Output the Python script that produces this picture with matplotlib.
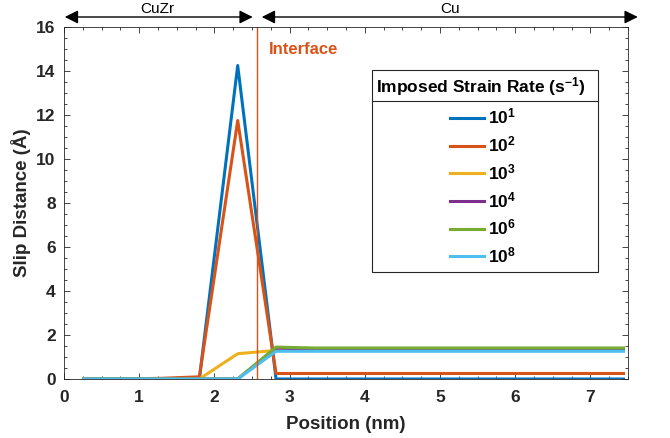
import matplotlib
matplotlib.use("Agg")
import matplotlib.pyplot as plt
from matplotlib.lines import Line2D
from matplotlib.patches import Rectangle
from matplotlib.ticker import MultipleLocator

plt.rcParams['font.family'] = ['Liberation Sans', 'DejaVu Sans']
plt.rcParams['mathtext.fontset'] = 'custom'
plt.rcParams['mathtext.rm'] = 'Liberation Sans:bold'
plt.rcParams['mathtext.it'] = 'Liberation Sans:bold'
plt.rcParams['mathtext.bf'] = 'Liberation Sans:bold'
plt.rcParams['mathtext.default'] = 'rm'

# data
position = [0.26, 0.77, 1.28, 1.80, 2.31, 2.82, 3.33, 3.85, 4.36, 4.87, 5.39, 5.90, 6.41, 6.92, 7.44]
slip_1e1 = [0, 0, 0, 0, 14.25, 0, 0, 0, 0, 0, 0, 0, 0, 0, 0]
slip_1e2 = [0, 0, 0.03, 0.1, 11.75, 0.25, 0.25, 0.25, 0.25, 0.25, 0.25, 0.25, 0.25, 0.25, 0.25]
slip_1e3 = [0, 0, 0, 0, 1.15, 1.3, 1.33, 1.33, 1.33, 1.33, 1.33, 1.33, 1.33, 1.33, 1.33]
slip_1e4 = [0, 0, 0, 0, 0, 1.4, 1.37, 1.37, 1.37, 1.37, 1.37, 1.37, 1.37, 1.37, 1.37]
slip_1e6 = [0, 0, 0, 0, 0, 1.45, 1.41, 1.41, 1.41, 1.41, 1.41, 1.41, 1.41, 1.41, 1.41]
slip_1e8 = [0, 0, 0, 0, 0, 1.26, 1.26, 1.26, 1.26, 1.26, 1.26, 1.26, 1.26, 1.26, 1.26]
series = [slip_1e1, slip_1e2, slip_1e3, slip_1e4, slip_1e6, slip_1e8]
labels = ['10$^{1}$', '10$^{2}$', '10$^{3}$', '10$^{4}$', '10$^{6}$', '10$^{8}$']
colors = ['#0072BD', '#D95319', '#EDB120', '#7E2F8E', '#77AC30', '#4DBEEE']
interface_x = 2.565
x_ticks = [0, 1, 2, 3, 4, 5, 6, 7]
y_ticks = [0, 2, 4, 6, 8, 10, 12, 14, 16]

W, H = 670, 438
fig = plt.figure(figsize=(6.7, 4.38), dpi=100)
ax = fig.add_axes([64/W, 59/H, 564/W, 352/H])

def fx(px):
    return px / W

def fy(py):
    return (H - py) / H

for ys, lab, c in zip(series, labels, colors):
    ax.plot(position, ys, color=c, lw=2.2, label=lab)

ax.axvline(interface_x, color='#D95319', lw=1.0)
ax.text(2.72, 15.0, 'Interface', color='#D95319', fontsize=12, fontweight='bold',
        ha='left', va='center')

ax.set_xlim(0, 7.5)
ax.set_ylim(0, 16)
ax.set_xticks(x_ticks)
ax.set_yticks(y_ticks)
ax.xaxis.set_minor_locator(MultipleLocator(0.25))
ax.yaxis.set_minor_locator(MultipleLocator(0.5))
ax.tick_params(which='both', direction='in', top=True, right=True, color='#262626', width=0.6)
ax.tick_params(which='major', length=4, labelsize=12.5, labelcolor='#262626')
ax.tick_params(axis='x', which='major', pad=8)
ax.tick_params(axis='y', which='major', pad=6)
ax.tick_params(which='minor', length=2)
for lbl in ax.get_xticklabels() + ax.get_yticklabels():
    lbl.set_fontweight('bold')
for sp in ax.spines.values():
    sp.set_color('#262626')
    sp.set_linewidth(0.6)

ax.set_xlabel('Position (nm)', fontsize=13.5, fontweight='bold', color='#262626', labelpad=8)
ax.set_ylabel('Slip Distance (Å)', fontsize=13.5, fontweight='bold', color='#262626', labelpad=4)

# legend box with title row
box_kw = dict(transform=fig.transFigure, clip_on=False)
ax.add_patch(Rectangle((fx(372), fy(272)), fx(598) - fx(372), fy(70) - fy(272),
                       facecolor='white', edgecolor='#262626', lw=0.8, zorder=4, **box_kw))
ax.add_line(Line2D([fx(372), fx(598)], [fy(101), fy(101)], color='#262626', lw=0.8,
                   zorder=4.1, **box_kw))
ax.text(fx(481), fy(87), 'Imposed Strain Rate (s$^{-1}$)', fontsize=12.5,
        fontweight='bold', ha='center', va='center', color='black', zorder=5,
        transform=fig.transFigure)

leg = ax.legend(loc='upper left', bbox_to_anchor=(fx(450), fy(107)),
                bbox_transform=fig.transFigure, fontsize=12.5,
                frameon=False, handlelength=1.95, handletextpad=0.25,
                labelspacing=0.45, borderpad=0, borderaxespad=0)
for t in leg.get_texts():
    t.set_fontweight('bold')
leg.set_zorder(6)

# region arrows
yarr = fy(17)
for xa, xb in [(0.01, 2.51), (2.63, 7.63)]:
    ax.annotate('', xy=(xa, yarr), xytext=(xb, yarr),
                xycoords=('data', 'figure fraction'), textcoords=('data', 'figure fraction'),
                arrowprops=dict(arrowstyle='<|-|>', color='black', lw=1, mutation_scale=20,
                                shrinkA=0, shrinkB=0), annotation_clip=False)
ytxt = fy(9)
ax.annotate('CuZr', xy=(1.24, ytxt), xycoords=('data', 'figure fraction'),
            ha='center', va='center', fontsize=11, annotation_clip=False)
ax.annotate('Cu', xy=(5.13, ytxt), xycoords=('data', 'figure fraction'),
            ha='center', va='center', fontsize=11, annotation_clip=False)

fig.savefig('out.png', dpi=100)
